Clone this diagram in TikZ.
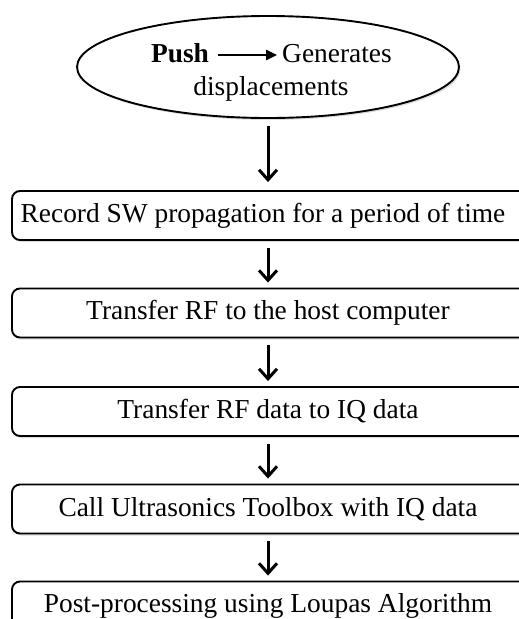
\documentclass[tikz,border=0pt]{standalone}
\usepackage{fontspec}
\setmainfont{Liberation Serif}
\usetikzlibrary{arrows.meta,shapes.geometric,shadows}

\begin{document}
\begin{tikzpicture}[x=1pt,y=-1pt,
  font=\fontsize{27.4}{33}\selectfont,
  softshadow/.style={drop shadow={shadow xshift=1.5pt,shadow yshift=-2pt,opacity=0.22,fill=black!60}},
  % boxes run past the right margin; the trailing space keeps the label centred near x=268
  stepbox/.style={draw,line width=1.9pt,rounded corners=8pt,fill=white,
    minimum width=526pt,minimum height=49pt,inner sep=0pt,softshadow,
    execute at end node={\hspace*{#1}}},
  stepbox/.default=14pt,
  flow/.style={line width=3pt,-{Straight Barb[length=10pt,width=18pt,line width=3pt]},
    shorten <=7pt,shorten >=5pt},
  word/.style={anchor=base,inner sep=0pt}]

\useasboundingbox (0,0) rectangle (519,619);

% start event: the push
\node[ellipse,draw,line width=1.9pt,fill=white,minimum width=382pt,minimum height=102pt,
  softshadow] (push) at (268,67) {};
\node[word] (pushword) at (180,62) {\textbf{Push}};
\node[word] (gen) at (337,62) {Generates};
\node[word] (disp) at (271,95) {displacements};
\draw[line width=2.4pt,-{Triangle[length=11pt,width=10pt]},shorten <=9pt,shorten >=5pt]
  ([yshift=7pt]pushword.base east) -- ([yshift=7pt]gen.base west);

% processing steps
\node[stepbox=24pt] (rec) at (275,215.5) {Record SW propagation for a period of time};
\node[stepbox] (host) at (275,313) {Transfer RF to the host computer};
\node[stepbox] (iq) at (275,411.5) {Transfer RF data to IQ data};
\node[stepbox] (tool) at (275,509) {Call Ultrasonics Toolbox with IQ data};
\node[stepbox] (post) at (275,606) {Post-processing using Loupas Algorithm};

\coordinate (axis) at (268,0);
\draw[flow,shorten >=8pt] (push.south) -- (axis |- rec.north);
\draw[flow] (axis |- rec.south) -- (axis |- host.north);
\draw[flow] (axis |- host.south) -- (axis |- iq.north);
\draw[flow] (axis |- iq.south) -- (axis |- tool.north);
\draw[flow] (axis |- tool.south) -- (axis |- post.north);
\end{tikzpicture}
\end{document}
